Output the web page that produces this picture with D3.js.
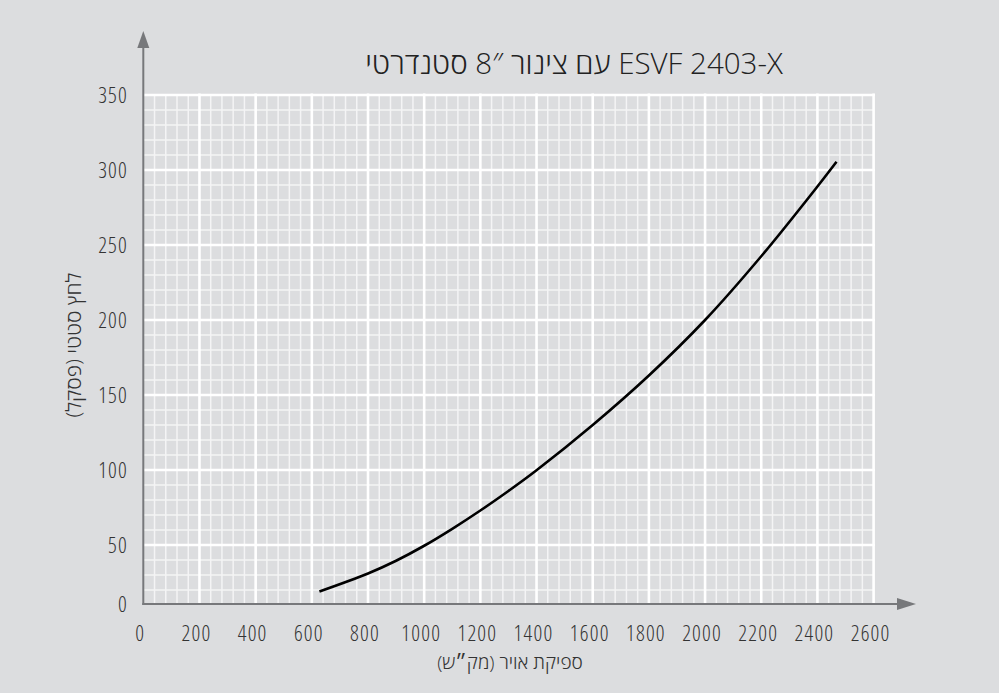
<!DOCTYPE html>
<html><head><meta charset="utf-8">
<script src="https://cdn.jsdelivr.net/npm/d3@7/dist/d3.min.js"></script>
<style>html,body{margin:0;padding:0;background:#dcdddf}svg{display:block}
text{font-family:'Open Sans',sans-serif;font-weight:300}</style>
</head><body>
<svg id="chart" width="999" height="693"></svg>
<script>
const chartTitle = "ESVF 2403-X עם צינור 8″ סטנדרטי";
const xAxisTitle = "ספיקת אויר (מק״ש)";
const yAxisTitle = "לחץ סטטי (פסקל)";
const xTickValues = [0, 200, 400, 600, 800, 1000, 1200, 1400, 1600, 1800, 2000, 2200, 2400, 2600];
const yTickValues = [0, 50, 100, 150, 200, 250, 300, 350];
const airflow = [627, 800, 900, 1000, 1100, 1200, 1300, 1400, 1600, 1800, 2000, 2200, 2400, 2468];
const pressure = [19, 31, 39.5, 49.5, 60.8, 73, 86, 99.8, 130, 163, 200, 242.5, 289, 305.5];

const svg = d3.select("#chart");
const W = 999, H = 693;
svg.append("rect").attr("width", W).attr("height", H).attr("fill", "#dcdddf");

const x = d3.scaleLinear().domain([0, 2600]).range([143.3, 873.6]);
const y = d3.scaleLinear().domain([0, 350]).range([620, 95]);
const plotBottom = 604, plotTop = y(350), plotLeft = x(0), plotRight = x(2600);

const g = svg.append("g");
const minorX = d3.range(40, 2600, 40).filter(v => v % 200 !== 0);
const minorY = d3.range(10, 350, 10).filter(v => v % 50 !== 0 && y(v) < plotBottom - 2);
g.selectAll(".mx").data(minorX).join("line")
  .attr("x1", d => x(d)).attr("x2", d => x(d)).attr("y1", plotTop).attr("y2", plotBottom)
  .attr("stroke", "#f4f4f5").attr("stroke-width", 1.5);
g.selectAll(".my").data(minorY).join("line")
  .attr("y1", d => y(d)).attr("y2", d => y(d)).attr("x1", plotLeft).attr("x2", plotRight)
  .attr("stroke", "#f4f4f5").attr("stroke-width", 1.5);
const majorX = d3.range(200, 2601, 200);
const majorY = d3.range(50, 351, 50);
g.selectAll(".Mx").data(majorX).join("line")
  .attr("x1", d => x(d)).attr("x2", d => x(d)).attr("y1", plotTop - 1.5).attr("y2", plotBottom)
  .attr("stroke", "#ffffff").attr("stroke-width", 2.6);
g.selectAll(".My").data(majorY).join("line")
  .attr("y1", d => y(d)).attr("y2", d => y(d)).attr("x1", plotLeft).attr("x2", plotRight + 1.3)
  .attr("stroke", "#ffffff").attr("stroke-width", 2.6);

const axisColor = "#77787b";
svg.append("line").attr("x1", plotLeft).attr("x2", plotLeft).attr("y1", plotBottom + 1).attr("y2", 46)
  .attr("stroke", axisColor).attr("stroke-width", 2);
svg.append("path").attr("d", `M${plotLeft - 6},48 L${plotLeft + 6},48 L${plotLeft},31 Z`).attr("fill", axisColor);
svg.append("line").attr("x1", plotLeft - 1).attr("x2", 899).attr("y1", plotBottom).attr("y2", plotBottom)
  .attr("stroke", axisColor).attr("stroke-width", 2);
svg.append("path").attr("d", `M897,${plotBottom - 6} L897,${plotBottom + 6} L916,${plotBottom} Z`).attr("fill", axisColor);

const pts = airflow.map((v, i) => [v, pressure[i]]);
svg.append("path").datum(pts)
  .attr("d", d3.line().x(d => x(d[0])).y(d => y(d[1])).curve(d3.curveCatmullRom))
  .attr("fill", "none").attr("stroke", "#000").attr("stroke-width", 2.6);

svg.selectAll(".xl").data(xTickValues).join("text")
  .attr("x", d => x(d) - 3).attr("y", 641)
  .attr("text-anchor", "middle").attr("font-size", 21.5).style("font-stretch", "75%")
  .style("letter-spacing", "1.2px").attr("fill", "#333")
  .text(d => d);
svg.selectAll(".yl").data(yTickValues).join("text")
  .attr("x", 128).attr("y", d => Math.min(y(d), plotBottom) + 7.5)
  .attr("text-anchor", "end").attr("font-size", 21.5).style("font-stretch", "75%")
  .style("letter-spacing", "1.2px").attr("fill", "#333")
  .text(d => d);

svg.append("text").attr("x", 574).attr("y", 74).attr("text-anchor", "middle")
  .style("direction", "rtl").style("font-stretch", "100%")
  .attr("font-size", 29.5).attr("fill", "#222").text(chartTitle);
svg.append("text").attr("x", 510).attr("y", 669).attr("text-anchor", "middle")
  .style("direction", "rtl").style("font-stretch", "100%").attr("font-size", 19).attr("fill", "#333").text(xAxisTitle);
svg.append("text").attr("transform", "translate(81,345) rotate(-90)").attr("text-anchor", "middle")
  .style("direction", "rtl").style("font-stretch", "100%").attr("font-size", 21).attr("fill", "#333").text(yAxisTitle);
</script>
</body></html>
